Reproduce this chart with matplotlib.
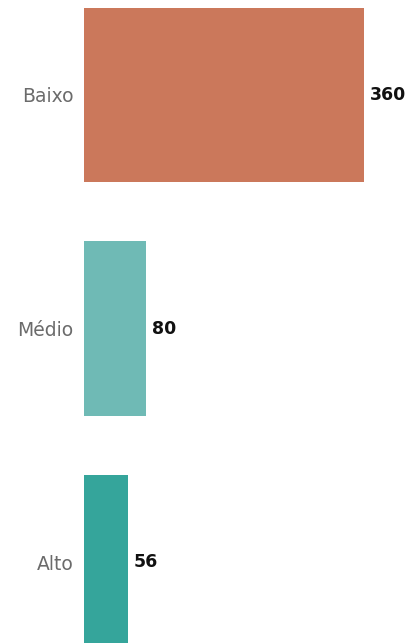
import matplotlib.pyplot as plt

categories = ["Baixo", "Médio", "Alto"]
values = [360, 80, 56]
colors = ["#CB785B", "#6FBAB5", "#35A59B"]

W, H, DPI = 416, 643, 100


def main():
    fig = plt.figure(figsize=(W / DPI, H / DPI), dpi=DPI)
    ax = fig.add_axes([84 / W, 0, 1 - 84 / W, 1])

    pos = list(range(len(categories)))
    ax.barh(pos, values, height=0.747, color=colors)

    # 0.778 px per unit, band of 233.5 px, first band centred 95 px from the top
    ax.set_xlim(0, (W - 84) / 0.778)
    ax.set_ylim((H - 95) / 233.5, -95 / 233.5)

    ax.set_yticks(pos)
    ax.set_yticklabels(categories, fontsize=13.5, color="#6b6b6b")
    ax.tick_params(axis="y", length=0, pad=7.5)
    ax.set_xticks([])
    for s in ax.spines.values():
        s.set_visible(False)

    for p, v in zip(pos, values):
        ax.annotate(str(v), (v, p), xytext=(4.5, 0), textcoords="offset points",
                    ha="left", va="center", fontsize=12.5, fontweight="bold",
                    color="#111111")

    fig.savefig("out.png", dpi=DPI)


if __name__ == "__main__":
    main()
